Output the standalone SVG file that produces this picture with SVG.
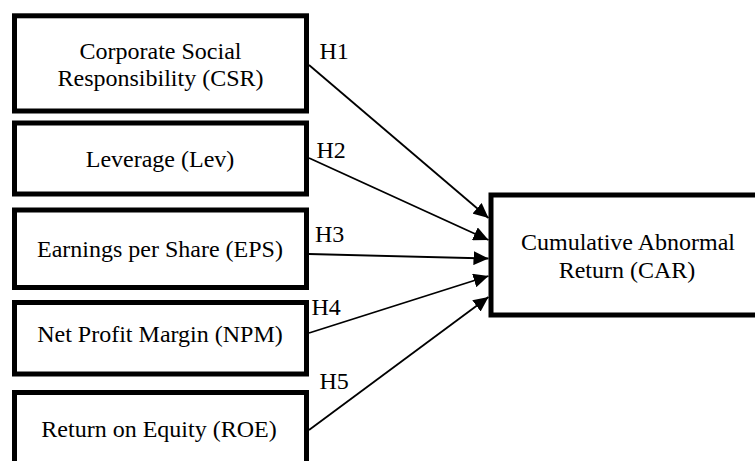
<svg xmlns="http://www.w3.org/2000/svg" width="755" height="461" viewBox="0 0 755 461">
<style>
.box{fill:#fff;stroke:#000;stroke-width:5}
.t{font-family:"Liberation Serif","Times New Roman",serif;font-size:24px;fill:#000}
.c{text-anchor:middle}
.conn{stroke:#000;stroke-width:1.8;fill:none}
</style>
<defs>
<marker id="ah" markerUnits="userSpaceOnUse" markerWidth="16" markerHeight="14" viewBox="0 0 16 14" refX="15" refY="7" orient="auto">
<path d="M0,0 L15,7 L0,14 Z" fill="#000"/>
</marker>
</defs>
<rect width="755" height="461" fill="#fff"/>
<g id="csr">
<rect class="box" x="14.5" y="15.8" width="292" height="95.2"/>
<text class="t c" x="160.5" y="58.5">Corporate Social</text>
<text class="t c" x="160.5" y="86">Responsibility (CSR)</text>
</g>
<g id="lev">
<rect class="box" x="14.5" y="123" width="292" height="71"/>
<text class="t c" x="160" y="166.5">Leverage (Lev)</text>
</g>
<g id="eps">
<rect class="box" x="14.5" y="210" width="292" height="77.5"/>
<text class="t c" x="160" y="256.5">Earnings per Share (EPS)</text>
</g>
<g id="npm">
<rect class="box" x="14.5" y="302.5" width="292" height="71.5"/>
<text class="t c" x="160" y="341.5">Net Profit Margin (NPM)</text>
</g>
<g id="roe">
<rect class="box" x="14.5" y="392.5" width="292" height="85"/>
<text class="t c" x="159" y="436.5">Return on Equity (ROE)</text>
</g>
<g id="car">
<rect class="box" x="491" y="195" width="275" height="120"/>
<text class="t c" x="628" y="250">Cumulative Abnormal</text>
<text class="t c" x="627" y="278.3">Return (CAR)</text>
</g>
<g id="connectors">
<line class="conn" x1="309" y1="65" x2="488.5" y2="218" marker-end="url(#ah)"/>
<line class="conn" x1="309" y1="158" x2="488.5" y2="240" marker-end="url(#ah)"/>
<line class="conn" x1="309" y1="254" x2="488.5" y2="258.5" marker-end="url(#ah)"/>
<line class="conn" x1="309" y1="333" x2="488.5" y2="276" marker-end="url(#ah)"/>
<line class="conn" x1="309" y1="430" x2="488.5" y2="297" marker-end="url(#ah)"/>
<text class="t" x="319.5" y="59.3">H1</text>
<text class="t" x="316.5" y="157.5">H2</text>
<text class="t" x="315" y="241.5">H3</text>
<text class="t" x="311.5" y="315">H4</text>
<text class="t" x="319.5" y="389">H5</text>
</g>
</svg>
